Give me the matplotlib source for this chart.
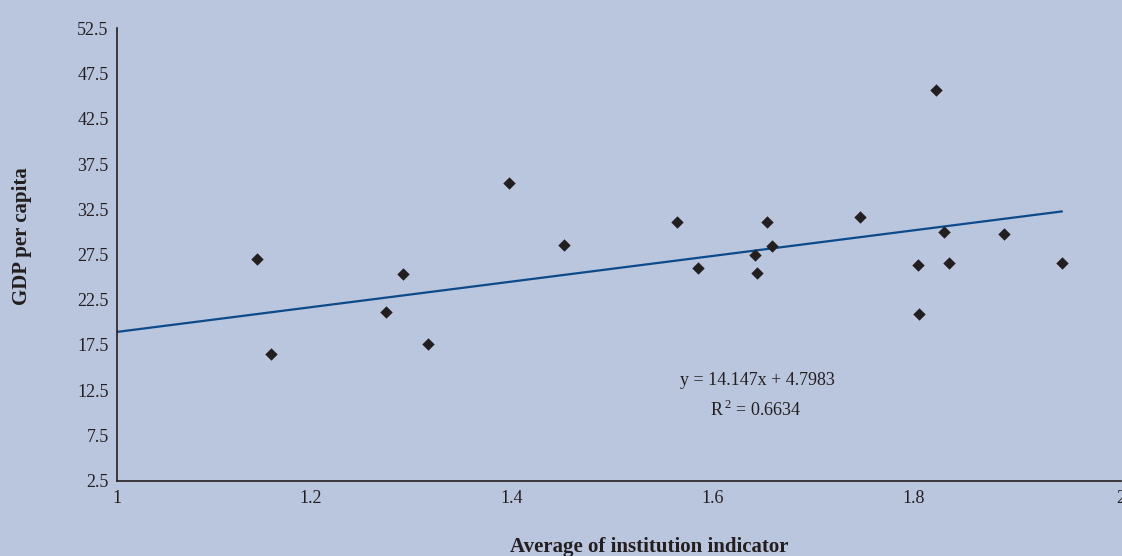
import numpy as np
import matplotlib
matplotlib.use("Agg")
import matplotlib.pyplot as plt
from matplotlib.transforms import ScaledTranslation

# Average institution indicator vs GDP per capita
institution = [1.139, 1.153, 1.268, 1.285, 1.310, 1.390, 1.445,
               1.558, 1.579, 1.636, 1.638, 1.647, 1.652, 1.740,
               1.798, 1.799, 1.816, 1.824, 1.829, 1.884, 1.941]
gdp = [27.0, 16.5, 21.1, 25.3, 17.6, 35.4, 28.5,
       31.1, 26.0, 27.4, 25.5, 31.1, 28.4, 31.7,
       26.3, 20.9, 45.7, 30.0, 26.6, 29.8, 26.6]

slope = 14.147
intercept = 4.7983
r_squared = 0.6634

x_ticks = [1, 1.2, 1.4, 1.6, 1.8, 2]
x_ticklabels = ["1", "1.2", "1.4", "1.6", "1.8", "2"]
y_ticks = [2.5, 7.5, 12.5, 17.5, 22.5, 27.5, 32.5, 37.5, 42.5, 47.5, 52.5]

bg = "#BAC5DE"
ink = "#231F20"

plt.rcParams["font.family"] = ["Liberation Serif", "DejaVu Serif"]
plt.rcParams["mathtext.fontset"] = "custom"
plt.rcParams["mathtext.rm"] = "Liberation Serif"

fig = plt.figure(figsize=(11.22, 5.56), dpi=100, facecolor=bg)
ax = fig.add_axes([0.1043, 0.1354, 0.8947, 0.8137], facecolor=bg)

ax.scatter(institution, gdp, marker="D", s=40, color=ink, zorder=3, linewidths=0)

xs = np.array([1.0, max(institution)])
ax.plot(xs, slope * xs + intercept, color="#0D4A8A", lw=1.6, zorder=2)

ax.set_xlim(1, 2)
ax.set_ylim(2.5, 52.5)
ax.set_xticks(x_ticks)
ax.set_xticklabels(x_ticklabels)
ax.set_yticks(y_ticks)
ax.set_yticklabels([f"{v:g}" for v in y_ticks])
ax.tick_params(length=0, labelsize=13, colors=ink)
ax.tick_params(axis="y", pad=6)
ax.tick_params(axis="x", pad=7)
# decimal tick labels sit slightly left of their ticks
for lab in ax.get_xticklabels():
    if "." in lab.get_text():
        lab.set_transform(lab.get_transform()
                          + ScaledTranslation(-7 / 100, 0, fig.dpi_scale_trans))
for s in ("top", "right"):
    ax.spines[s].set_visible(False)
for s in ("left", "bottom"):
    ax.spines[s].set_color(ink)
    ax.spines[s].set_linewidth(1.2)

ax.text(1.6375, 13.6, f"y = {slope}x + {intercept}", ha="center", va="center",
        fontsize=13, color=ink)
ax.text(1.6365, 10.3, "R$^{\\,2}$ = " + f"{r_squared}", ha="center", va="center",
        fontsize=13, color=ink)

fig.text(649 / 1122, 1 - 547 / 556, "Average of institution indicator",
         ha="center", va="center", fontsize=15, fontweight="bold", color=ink)
fig.text(22 / 1122, 1 - 236 / 556, "GDP per capita", rotation=90,
         ha="center", va="center", fontsize=15, fontweight="bold", color=ink)

fig.savefig("out.png", dpi=100, facecolor=bg)
